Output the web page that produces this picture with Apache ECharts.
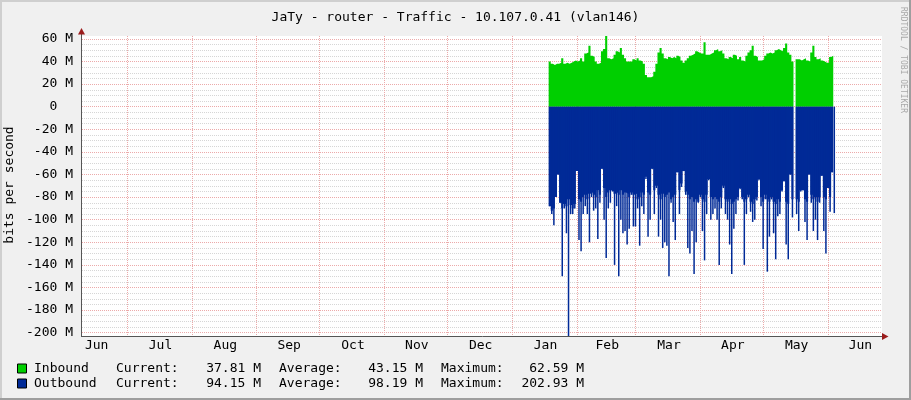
<!DOCTYPE html>
<html><head><meta charset="utf-8">
<script src="https://cdn.jsdelivr.net/npm/echarts@6/dist/echarts.min.js"></script>
<style>html,body{margin:0;padding:0;background:#f0f0f0}#c{width:911px;height:400px}</style>
</head><body><div id="c"></div><script>
// ---- data (days counted from Jun 1 of the first year) ----
const monthLabels = ['Jun','Jul','Aug','Sep','Oct','Nov','Dec','Jan','Feb','Mar','Apr','May','Jun'];
const monthStartDays = [0,30,61,92,122,153,183,214,245,273,304,334,365,395];
const yTicks = [-200,-180,-160,-140,-120,-100,-80,-60,-40,-20,0,20,40,60];
const firstSampleDay = 231.5; // ~Jan 18, one sample per day

// Inbound, Mbit/s
const inbound = [
 40,38,37,38,38,39,43,38,39,38,
 39,40,41,40,41,43,40,47,48,54,
 45,44,40,38,39,49,51,62.59,43,42,
 43,46,49,48,52,46,43,40,40,40,
 42,41,43,41,40,38,28,26,26,27,
 31,38,48,52,47,43,42,44,43,44,
 43,45,44,41,39,41,43,45,46,47,
 49,48,47,47,57,46,46,47,48,50,
 51,49,50,47,43,42,44,43,46,45,
 42,44,41,40,45,48,50,54,45,44,
 41,41,42,45,47,48,47,48,50,51,
 50,49,52,56,48,46,40,null,42,42,
 41,42,43,41,40,48,54,44,42,43,
 41,40,39,39,44,45,37.81
];
// Outbound, Mbit/s (drawn below zero): solid level of each day
const outboundBase = [
 88,92,90,80,60,85,90,86,88,82,
 87,90,86,57,82,84,80,78,82,77,
 76,78,80,74,78,55,72,80,76,74,
 75,77,76,78,74,78,76,77,80,76,
 78,77,82,80,76,78,62,76,78,55,
 74,70,78,82,77,80,78,76,82,80,
 78,58,74,68,57,75,78,82,80,84,
 82,84,78,82,84,78,64,80,82,80,
 82,84,80,70,82,84,82,86,84,82,
 80,72,80,84,82,78,84,86,82,80,
 64,80,84,78,82,84,80,84,86,82,
 84,74,66,84,86,60,82,null,82,84,
 74,74,82,84,60,78,82,80,84,80,
 61,80,82,72,80,58,82
];
// Outbound peak of each day
const outboundPeak = [
 88,95,105,80,60,85,150,90,112,202.93,
 95,95,90,57,118,128,95,88,95,120,
 80,92,90,117,85,55,100,134,90,85,
 75,140,88,150,100,112,110,122,108,78,
 106,106,90,123,88,95,64,115,100,55,
 95,72,115,100,125,120,123,150,85,102,
 118,58,95,71,57,78,125,130,110,148,
 120,85,80,110,136,95,65,100,95,90,
 100,140,90,72,95,100,122,148,108,95,
 83,73,82,140,95,80,93,102,100,83,
 65,88,126,82,146,115,82,112,135,97,
 95,75,66,122,135,60,98,null,95,110,
 75,74,102,118,60,85,110,100,118,85,
 61,110,130,72,93,58,94.15
];
const legendNames = ['Inbound','Outbound'];
const legendCurrent = ['37.81 M','94.15 M'];
const legendAverage = ['43.15 M','98.19 M'];
const legendMaximum = ['62.59 M','202.93 M'];
const legendColors = ['#00CF00','#002A97'];

// ---- chart ----
const FONT = '"DejaVu Sans Mono", monospace';
const xMin = 8.5, xMax = 390.8;
const yMin = -202.93, yMax = 62.59;
const gridL = 82, gridT = 36, gridW = 800, gridH = 300;

const monthLineDays = monthStartDays.filter(d => d > xMin && d < xMax);
const monthLabelDays = monthLabels.map((m, i) => (monthStartDays[i] + monthStartDays[i + 1]) / 2 + 0.5);
const yMinor = [];
for (let i = 0; i + 1 < yTicks.length; i++) {
  for (let k = 1; k < 4; k++) yMinor.push(yTicks[i] + k * 5);
}

const inPts = inbound.map((v, i) => [firstSampleDay + i, v == null ? '-' : v]);
const basePts = outboundBase.map((v, i) => [firstSampleDay + i, v == null ? '-' : -v]);
const peakPts = outboundPeak.map((v, i) => [firstSampleDay + i + 0.5, v == null ? '-' : -v]);

const chart = echarts.init(document.getElementById('c'), null, {renderer: 'canvas'});

const legendGraphics = [];
legendNames.forEach((n, i) => {
  const cy = 368.5 + i * 15;
  legendGraphics.push({type: 'rect', z: 10, shape: {x: 17.5, y: cy - 4.5, width: 9, height: 9},
    style: {fill: legendColors[i], stroke: '#000', lineWidth: 1}});
  const t = (txt, x, align) => ({type: 'text', z: 10, x: x, y: cy,
    style: {text: txt, font: '13px ' + FONT, fill: '#000', align: align, verticalAlign: 'middle'}});
  legendGraphics.push(t(n, 34, 'left'));
  legendGraphics.push(t('Current:', 116, 'left'));
  legendGraphics.push(t(legendCurrent[i], 261, 'right'));
  legendGraphics.push(t('Average:', 279, 'left'));
  legendGraphics.push(t(legendAverage[i], 423, 'right'));
  legendGraphics.push(t('Maximum:', 441, 'left'));
  legendGraphics.push(t(legendMaximum[i], 584, 'right'));
});

const option = {
  backgroundColor: '#f0f0f0',
  animation: false,
  title: {
    text: 'JaTy - router - Traffic - 10.107.0.41 (vlan146)',
    left: 'center', top: 6,
    textStyle: {fontFamily: FONT, fontSize: 13, fontWeight: 'normal', color: '#000'}
  },
  grid: {left: gridL, top: gridT, width: gridW, height: gridH,
    show: true, backgroundColor: '#ffffff', borderWidth: 0},
  xAxis: {
    type: 'value', min: xMin, max: xMax,
    axisLine: {show: false},
    axisTick: {show: false, customValues: monthLineDays},
    splitLine: {show: true, lineStyle: {color: '#ecaaaa', type: [1, 1], width: 1}},
    axisLabel: {
      customValues: monthLabelDays, margin: 3,
      fontFamily: FONT, fontSize: 13, color: '#000',
      formatter: v => {
        const i = monthLabelDays.findIndex(d => Math.abs(d - v) < 0.01);
        return i >= 0 ? monthLabels[i] : '';
      }
    }
  },
  yAxis: [{
    type: 'value', min: yMin, max: yMax,
    axisLine: {show: false},
    axisTick: {show: false, customValues: yTicks},
    splitLine: {show: true, lineStyle: {color: '#ecaaaa', type: [1, 1], width: 1}},
    axisLabel: {
      customValues: yTicks, margin: 9,
      fontFamily: FONT, fontSize: 13, color: '#000',
      formatter: v => v === 0 ? '0  ' : v + ' M'
    }
  }, {
    type: 'value', min: yMin, max: yMax, position: 'left',
    axisLine: {show: false},
    axisTick: {show: false, customValues: yMinor.filter(v => v > yMin && v < yMax)},
    axisLabel: {show: false},
    splitLine: {show: true, lineStyle: {color: '#d6d6d6', type: [1, 1], width: 1}}
  }],
  series: [
    {name: 'Inbound', type: 'line', data: inPts, step: 'end', showSymbol: false, symbol: 'none',
      lineStyle: {width: 0}, areaStyle: {color: legendColors[0], opacity: 1}, itemStyle: {color: legendColors[0]},
      connectNulls: false, silent: true, z: 3},
    {name: 'Outbound', type: 'line', data: basePts, step: 'end', showSymbol: false, symbol: 'none',
      lineStyle: {width: 0}, areaStyle: {color: legendColors[1], opacity: 1}, itemStyle: {color: legendColors[1]},
      connectNulls: false, silent: true, z: 3},
    {name: 'Outbound peak', type: 'bar', data: peakPts, barWidth: 1.5,
      itemStyle: {color: legendColors[1]}, silent: true, z: 3}
  ],
  graphic: [
    {type: 'rect', z: 1, shape: {x: 0, y: 0, width: 911, height: 2}, style: {fill: '#cfcfcf'}},
    {type: 'rect', z: 1, shape: {x: 0, y: 0, width: 2, height: 400}, style: {fill: '#cfcfcf'}},
    {type: 'rect', z: 1, shape: {x: 0, y: 398, width: 911, height: 2}, style: {fill: '#9e9e9e'}},
    {type: 'rect', z: 1, shape: {x: 909, y: 0, width: 2, height: 400}, style: {fill: '#9e9e9e'}},
    {type: 'line', z: 100, shape: {x1: 81.5, y1: 337, x2: 81.5, y2: 33}, style: {stroke: '#555555', lineWidth: 1}},
    {type: 'line', z: 100, shape: {x1: 81, y1: 336.5, x2: 884, y2: 336.5}, style: {stroke: '#555555', lineWidth: 1}},
    {type: 'polygon', z: 101, shape: {points: [[81.5, 28], [78, 34.5], [85, 34.5]]}, style: {fill: '#9b1c1c'}},
    {type: 'polygon', z: 101, shape: {points: [[888.5, 336.5], [882, 333], [882, 340]]}, style: {fill: '#9b1c1c'}},
    {type: 'text', z: 10, x: 10, y: 185, rotation: Math.PI / 2,
      style: {text: 'bits per second', font: '13px ' + FONT, fill: '#000', align: 'center', verticalAlign: 'middle'}},
    {type: 'text', z: 10, x: 903, y: 60, rotation: -Math.PI / 2,
      style: {text: 'RRDTOOL / TOBI OETIKER', font: '8px ' + FONT, fill: '#a8a8a8', align: 'center', verticalAlign: 'middle'}}
  ].concat(legendGraphics)
};
chart.setOption(option);
</script></body></html>
